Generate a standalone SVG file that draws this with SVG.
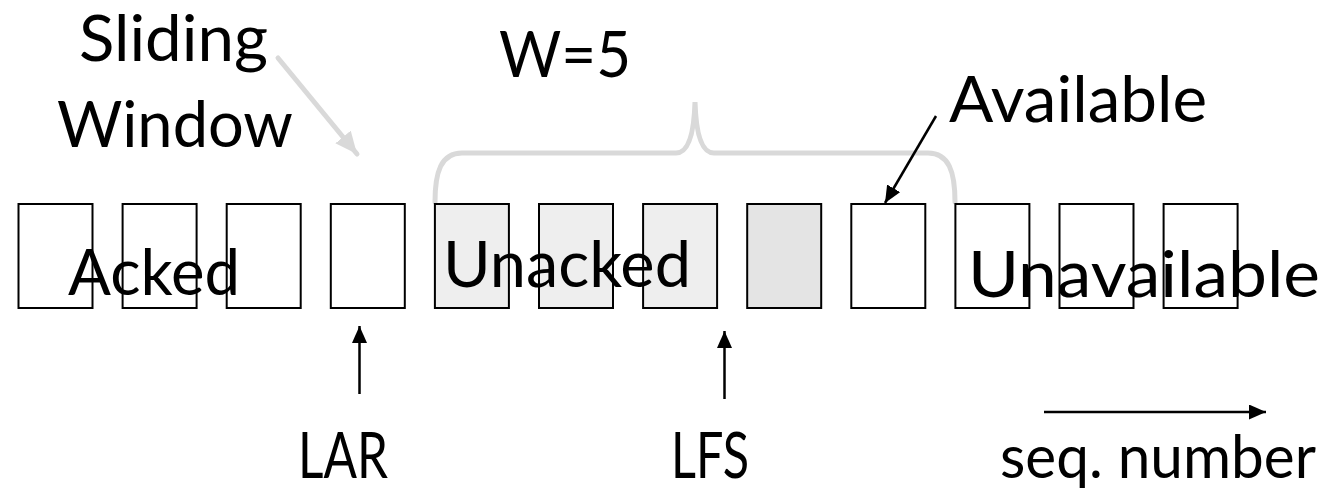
<svg xmlns="http://www.w3.org/2000/svg" width="1332" height="497" viewBox="0 0 1332 497">
<style>
.box{fill:#ffffff;stroke:#000;stroke-width:2}
.un{fill:#eeeeee}
.lfs{fill:#e4e4e4}
.t{font-family:Lato,"Liberation Sans",sans-serif;font-size:64px;fill:#000}
.blk{stroke:#000;stroke-width:2.5;fill:none}
.gry{stroke:#d9d9d9;stroke-width:5;fill:none;stroke-linecap:round}
</style>
<defs>
<marker id="ah" markerUnits="userSpaceOnUse" markerWidth="17" markerHeight="15" refX="17" refY="7.5" orient="auto">
<path d="M0,0 L17,7.5 L0,15 Z" fill="#000"/>
</marker>
<marker id="ahg" markerUnits="userSpaceOnUse" markerWidth="22" markerHeight="20" refX="22" refY="10" orient="auto">
<path d="M0,0 L22,10 L0,20 Z" fill="#d9d9d9"/>
</marker>
</defs>
<rect width="1332" height="497" fill="#fff"/>
<g id="brace">
<path class="gry" d="M435,202 C435,172 441,153 462,153 L676,153 C688,153 694,135 695,102 C696,135 702,153 714,153 L928,153 C949,153 955,172 955,202"/>
</g>
<g id="boxes">
<g id="box1"><rect class="box" x="18.5" y="204" width="74" height="104"/></g>
<g id="box2"><rect class="box" x="122.6" y="204" width="74" height="104"/></g>
<g id="box3"><rect class="box" x="226.7" y="204" width="74" height="104"/></g>
<g id="box4"><rect class="box" x="330.8" y="204" width="74" height="104"/></g>
<g id="box5"><rect class="box un" x="434.9" y="204" width="74" height="104"/></g>
<g id="box6"><rect class="box un" x="539" y="204" width="74" height="104"/></g>
<g id="box7"><rect class="box un" x="643.1" y="204" width="74" height="104"/></g>
<g id="box8"><rect class="box lfs" x="747.2" y="204" width="74" height="104"/></g>
<g id="box9"><rect class="box" x="851.3" y="204" width="74" height="104"/></g>
<g id="box10"><rect class="box" x="955.4" y="204" width="74" height="104"/></g>
<g id="box11"><rect class="box" x="1059.5" y="204" width="74" height="104"/></g>
<g id="box12"><rect class="box" x="1163.6" y="204" width="74" height="104"/></g>
</g>
<g id="connectors">
<line class="gry" x1="278" y1="58" x2="357" y2="154" marker-end="url(#ahg)"/>
<line class="blk" x1="936" y1="116" x2="885" y2="203" marker-end="url(#ah)"/>
<line class="blk" x1="359.5" y1="394" x2="359.5" y2="326" marker-end="url(#ah)"/>
<line class="blk" x1="724.5" y1="399" x2="724.5" y2="331" marker-end="url(#ah)"/>
<line class="blk" x1="1044" y1="412" x2="1266" y2="412" marker-end="url(#ah)"/>
</g>
<g id="labels">
<text class="t" x="79" y="61" textLength="189" lengthAdjust="spacingAndGlyphs">Sliding</text>
<text class="t" x="57" y="147" textLength="236" lengthAdjust="spacingAndGlyphs">Window</text>
<text class="t" x="499" y="77" textLength="132" lengthAdjust="spacingAndGlyphs">W=5</text>
<text class="t" x="949" y="122" textLength="258" lengthAdjust="spacingAndGlyphs">Available</text>
<text class="t" x="68" y="295" textLength="172" lengthAdjust="spacingAndGlyphs">Acked</text>
<text class="t" x="443" y="287" textLength="248" lengthAdjust="spacingAndGlyphs">Unacked</text>
<text class="t" x="968" y="297" textLength="352" lengthAdjust="spacingAndGlyphs">Unavailable</text>
<text class="t" x="298" y="478" textLength="90" lengthAdjust="spacingAndGlyphs">LAR</text>
<text class="t" x="671" y="478" textLength="78" lengthAdjust="spacingAndGlyphs">LFS</text>
<text class="t" x="1000" y="478" style="font-size:60px" textLength="316" lengthAdjust="spacingAndGlyphs">seq. number</text>
</g>
</svg>
